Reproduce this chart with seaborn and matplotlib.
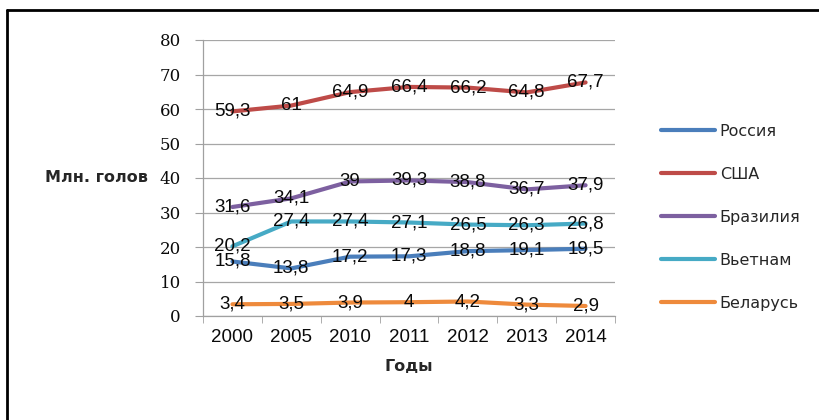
import pandas as pd
import matplotlib.pyplot as plt
from matplotlib.lines import Line2D
import seaborn as sns

# data
years = ["2000", "2005", "2010", "2011", "2012", "2013", "2014"]
countries = ["Россия", "США", "Бразилия", "Вьетнам", "Беларусь"]
russia = [15.8, 13.8, 17.2, 17.3, 18.8, 19.1, 19.5]
usa = [59.3, 61, 64.9, 66.4, 66.2, 64.8, 67.7]
brazil = [31.6, 34.1, 39, 39.3, 38.8, 36.7, 37.9]
vietnam = [20.2, 27.4, 27.4, 27.1, 26.5, 26.3, 26.8]
belarus = [3.4, 3.5, 3.9, 4, 4.2, 3.3, 2.9]
colors = ["#4A7EBB", "#BE4B48", "#7D60A0", "#46AAC5", "#EE8A3C"]

series = dict(zip(countries, [russia, usa, brazil, vietnam, belarus]))
rows = []
for name, vals in series.items():
    for y, v in zip(years, vals):
        rows.append({"Годы": y, "value": v, "country": name})
df = pd.DataFrame(rows)

sns.set_style("white")
plt.rcParams["font.family"] = ["DejaVu Sans"]

fig = plt.figure(figsize=(8.2, 4.2), dpi=100)
ax = fig.add_axes([203 / 820, 104 / 420, 412 / 820, 276 / 420])

sns.lineplot(data=df, x="Годы", y="value", hue="country", hue_order=countries,
             palette=colors, linewidth=3, sort=False, legend=False, ax=ax,
             solid_capstyle="round")

# data labels centred on the points
for name, vals in series.items():
    for i, v in enumerate(vals):
        ax.text(i, v, f"{v:g}".replace(".", ","), ha="center", va="center",
                fontsize=13.5, family="Liberation Sans", color="#0A0A0A", zorder=5)

ax.set_xlim(-0.5, len(years) - 0.5)
ax.set_ylim(0, 80)
ax.set_yticks(range(0, 81, 10))
ax.set_yticklabels([str(t) for t in range(0, 81, 10)], family="DejaVu Serif", fontsize=12)
ax.set_xticks(range(len(years)))
ax.set_xticklabels(years, family="Liberation Sans", fontsize=13.5)
ax.set_xticks([i - 0.5 for i in range(len(years) + 1)], minor=True)
ax.tick_params(axis="x", which="major", length=0, pad=9, colors="#0A0A0A")
ax.tick_params(axis="x", which="minor", length=5, color="#A0A0A0", direction="out", bottom=True)
ax.tick_params(axis="y", length=6, direction="out", left=True, pad=10, colors="#0A0A0A")
ax.tick_params(axis="y", color="#A0A0A0")

ax.yaxis.grid(True, color="#A6A6A6", linewidth=0.9)
ax.set_axisbelow(True)
for s in ["top", "right"]:
    ax.spines[s].set_visible(False)
for s in ["left", "bottom"]:
    ax.spines[s].set_color("#A0A0A0")
    ax.spines[s].set_linewidth(0.9)

ax.set_xlabel("Годы", fontsize=11.5, fontweight="bold", labelpad=10)
ax.set_ylabel("Млн. голов", fontsize=11.5, fontweight="bold", rotation=0,
              ha="right", va="center")
ax.yaxis.set_label_coords(-0.133, 0.5)

handles = [Line2D([], [], color=c, linewidth=3, solid_capstyle="round") for c in colors]
fig.legend(handles, countries, loc="center left", bbox_to_anchor=(0.788, 0.483),
           frameon=False, fontsize=11.5, handlelength=3.4, handletextpad=0.3,
           labelspacing=1.75)

# outer chart frame (only top and left edges are visible)
fig.add_artist(Line2D([7 / 820, 1], [1 - 10 / 420, 1 - 10 / 420], color="black", linewidth=2))
fig.add_artist(Line2D([7 / 820, 7 / 820], [0, 1 - 10 / 420], color="black", linewidth=2))

fig.savefig("out.png", dpi=100)
